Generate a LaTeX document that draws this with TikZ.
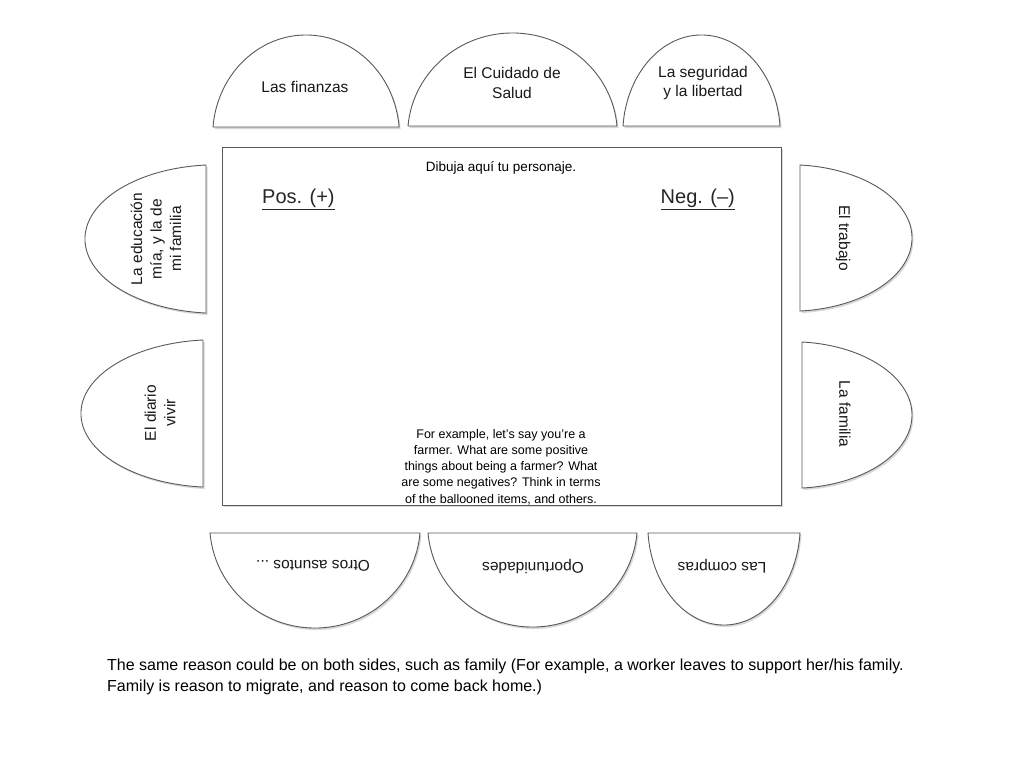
\documentclass[tikz,border=0pt]{standalone}
\usepackage{fontspec}
\setmainfont{Liberation Sans}
\usetikzlibrary{shadows}

\begin{document}
\begin{tikzpicture}[x=1pt,y=-1pt]
\tikzset{
    balloon/.style={
        draw=black!65,
        line width=0.9pt,
        fill=white,
        drop shadow={opacity=0.3, shadow xshift=1.5pt, shadow yshift=-2pt},
    },
    balloon text/.style={
        align=center,
        inner sep=0pt,
        text=black!90,
        font=\fontsize{15.5}{19.5}\selectfont,
    },
    main-box/.style={
        draw=black!65,
        line width=0.9pt,
        fill=white,
        drop shadow={opacity=0.3, shadow xshift=1.5pt, shadow yshift=-2pt},
        minimum width=559pt,
        minimum height=358pt,
        inner sep=0pt,
    },
    small text/.style={
        align=center,
        inner sep=0pt,
        font=\fontsize{12.5}{16.2}\selectfont,
    },
    heading/.style={
        inner sep=0pt,
        text=black!85,
        font=\fontsize{20}{24}\selectfont,
    },
    note/.style={
        align=left,
        inner sep=0pt,
        font=\fontsize{16}{20.5}\selectfont,
    },
}
\fill[white] (0,0) rectangle (1024,768);
\useasboundingbox (0,0) rectangle (1024,768);

% top row
\draw[balloon] (213,127) arc[start angle=185, end angle=355, x radius=93.4, y radius=100.8] -- cycle;
\draw[balloon] (408,126) arc[start angle=185, end angle=355, x radius=104.9, y radius=101.9] -- cycle;
\draw[balloon] (623,126) arc[start angle=185, end angle=355, x radius=78.8, y radius=99.7] -- cycle;
\node[balloon text] (finanzas) at (305,87) {Las finanzas};
\node[balloon text] (salud) at (512,83) {El Cuidado de\\Salud};
\node[balloon text] (seguridad) at (703,83) {La seguridad\\y la libertad};

% main sheet
\node[main-box, anchor=north west] (sheet) at (222,147) {};
\node[small text, font=\fontsize{13.5}{16}\selectfont] (dibuja) at (501,168) {Dibuja aquí tu personaje.};
\node[heading, anchor=west] (pos) at (262,199) {\underline{Pos. (+)}};
\node[heading, anchor=east] (neg) at (735,199) {\underline{Neg. (–)}};
\node[small text] (ejemplo) at (501,467) {For example, let's say you're a\\farmer. What are some positive\\things about being a farmer? What\\are some negatives? Think in terms\\of the ballooned items, and others.};

% left side
\draw[balloon] (206,165) arc[start angle=265, end angle=95, x radius=132.6, y radius=74.3] -- cycle;
\draw[balloon] (203,340) arc[start angle=265, end angle=95, x radius=133.7, y radius=73.8] -- cycle;
\node[balloon text, rotate=90] (educacion) at (156,239) {La educación\\mía, y la de\\mi familia};
\node[balloon text, rotate=90] (diario) at (160,413) {El diario\\vivir};

% right side
\draw[balloon] (800,165) arc[start angle=275, end angle=445, x radius=122.7, y radius=73.3] -- cycle;
\draw[balloon] (802,342) arc[start angle=275, end angle=445, x radius=120.5, y radius=73.3] -- cycle;
\node[balloon text, rotate=-90] (trabajo) at (843,238) {El trabajo};
\node[balloon text, rotate=-90] (familia) at (845,414) {La familia};

% bottom row
\draw[balloon] (210,533) arc[start angle=175, end angle=5, x radius=105.4, y radius=104.1] -- cycle;
\draw[balloon] (428,533) arc[start angle=175, end angle=5, x radius=104.9, y radius=103] -- cycle;
\draw[balloon] (648,533) arc[start angle=175, end angle=5, x radius=76.3, y radius=100.8] -- cycle;
\node[balloon text, rotate=180] (otros) at (313,566) {Otros asuntos ...};
\node[balloon text, rotate=180] (oportunidades) at (533,566) {Oportunidades};
\node[balloon text, rotate=180] (compras) at (722,566) {Las compras};

% note below
\node[note, anchor=north west] (razon) at (107,659) {The same reason could be on both sides, such as family (For example, a worker leaves to support her/his family.\\Family is reason to migrate, and reason to come back home.)};
\end{tikzpicture}
\end{document}
